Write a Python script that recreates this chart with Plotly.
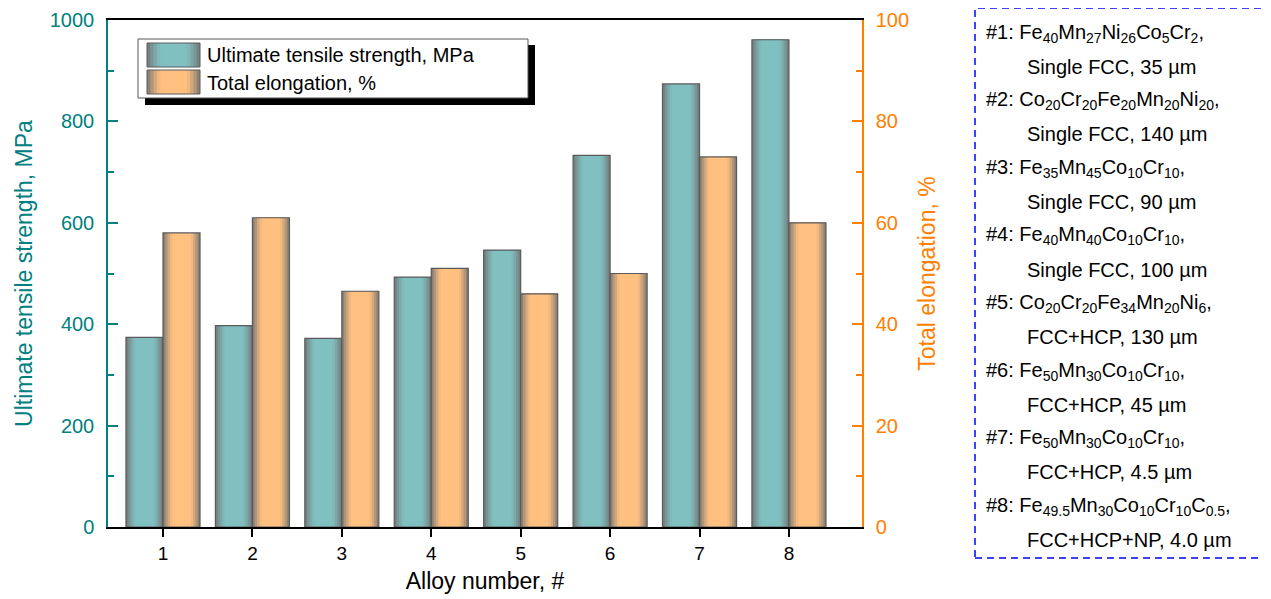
import plotly.graph_objects as go

alloys = [1, 2, 3, 4, 5, 6, 7, 8]
uts_mpa = [374, 397, 372, 493, 546, 733, 874, 961]
elong_pct = [58, 61, 46.5, 51, 46, 50, 73, 60]

legend_names = ["Ultimate tensile strength, MPa", "Total elongation, %"]
info_lines = [
    ("#1: Fe<sub>40</sub>Mn<sub>27</sub>Ni<sub>26</sub>Co<sub>5</sub>Cr<sub>2</sub>,", 0),
    ("Single FCC, 35 µm", 1),
    ("#2: Co<sub>20</sub>Cr<sub>20</sub>Fe<sub>20</sub>Mn<sub>20</sub>Ni<sub>20</sub>,", 0),
    ("Single FCC, 140 µm", 1),
    ("#3: Fe<sub>35</sub>Mn<sub>45</sub>Co<sub>10</sub>Cr<sub>10</sub>,", 0),
    ("Single FCC, 90 µm", 1),
    ("#4: Fe<sub>40</sub>Mn<sub>40</sub>Co<sub>10</sub>Cr<sub>10</sub>,", 0),
    ("Single FCC, 100 µm", 1),
    ("#5: Co<sub>20</sub>Cr<sub>20</sub>Fe<sub>34</sub>Mn<sub>20</sub>Ni<sub>6</sub>,", 0),
    ("FCC+HCP, 130 µm", 1),
    ("#6: Fe<sub>50</sub>Mn<sub>30</sub>Co<sub>10</sub>Cr<sub>10</sub>,", 0),
    ("FCC+HCP, 45 µm", 1),
    ("#7: Fe<sub>50</sub>Mn<sub>30</sub>Co<sub>10</sub>Cr<sub>10</sub>,", 0),
    ("FCC+HCP, 4.5 µm", 1),
    ("#8: Fe<sub>49.5</sub>Mn<sub>30</sub>Co<sub>10</sub>Cr<sub>10</sub>C<sub>0.5</sub>,", 0),
    ("FCC+HCP+NP, 4.0 µm", 1),
]

OFF = 8  # page body margin
W, H = 1271 - OFF, 599 - OFF
L, R, T, B = 108, 862, 20, 527
FONT = "Arial, Liberation Sans, sans-serif"
TEAL_AX = "#008080"
ORANGE_AX = "#FF8000"
TEAL = (0x80, 0xC0, 0xC0)
ORANGE = (0xFF, 0xC0, 0x80)
EDGE = (0x72, 0x72, 0x72)


def px(x):
    return (x - L) / (R - L)


def py(y):
    return (B - y) / (B - T)


def mix(c1, c2, f):
    return "rgb(%d,%d,%d)" % tuple(round(a * (1 - f) + b * f) for a, b in zip(c1, c2))


def shade(t):
    return min(1.0, t * 2.0) ** 0.8


BW = 0.414
NHALF = 8
fig = go.Figure()


def add_grad_bars(y, base, offset, yaxis):
    step = BW / 2 / NHALF
    for k in range(NHALF):
        t = (k + 0.5) / NHALF
        fig.add_trace(go.Bar(
            x=alloys, y=y, width=BW - 2 * k * step, offset=offset + k * step,
            marker=dict(color=mix(EDGE, base, shade(t)), line=dict(width=0)),
            yaxis=yaxis, showlegend=False, hoverinfo="skip"))
    fig.add_trace(go.Bar(
        x=alloys, y=y, width=BW, offset=offset,
        marker=dict(color="rgba(0,0,0,0)", line=dict(width=1.2, color="#5a5a5a")),
        yaxis=yaxis, showlegend=False, hoverinfo="skip"))


add_grad_bars(uts_mpa, TEAL, -BW, "y")
add_grad_bars(elong_pct, ORANGE, 0.0, "y2")

fig.update_layout(
    width=W, height=H, barmode="overlay",
    margin=dict(l=L - OFF, r=1271 - R, t=T - OFF, b=599 - B),
    paper_bgcolor="white", plot_bgcolor="white",
    font=dict(family=FONT, size=20, color="black"),
    showlegend=False,
    xaxis=dict(
        range=[0.385, 8.817], tickvals=alloys, ticktext=[str(a) for a in alloys],
        showline=True, linecolor="black", linewidth=1.5, mirror=True,
        ticks="outside", ticklen=8, tickwidth=1.5, tickcolor="black",
        showgrid=False, zeroline=False, automargin=False,
        tickfont=dict(size=19, color="black"),
        title=dict(text="Alloy number, #", font=dict(size=23, color="black"), standoff=10),
    ),
    yaxis=dict(
        range=[0, 1000], tickvals=[0, 200, 400, 600, 800, 1000],
        showline=True, linecolor=TEAL_AX, linewidth=1.5,
        ticks="inside", ticklen=10, tickwidth=1.5, tickcolor=TEAL_AX,
        minor=dict(tickvals=[100, 300, 500, 700, 900], ticks="inside", ticklen=6,
                   tickwidth=1.5, tickcolor=TEAL_AX),
        showgrid=False, zeroline=False, automargin=False,
        ticklabelstandoff=8,
        tickfont=dict(size=20, color=TEAL_AX),
        title=dict(text="Ultimate tensile strength, MPa", font=dict(size=23, color=TEAL_AX), standoff=11),
    ),
    yaxis2=dict(
        range=[0, 100], tickvals=[0, 20, 40, 60, 80, 100], overlaying="y", side="right",
        showline=True, linecolor=ORANGE_AX, linewidth=1.5,
        ticks="inside", ticklen=10, tickwidth=1.5, tickcolor=ORANGE_AX,
        minor=dict(tickvals=[10, 30, 50, 70, 90], ticks="inside", ticklen=6,
                   tickwidth=1.5, tickcolor=ORANGE_AX),
        showgrid=False, zeroline=False, automargin=False,
        ticklabelstandoff=8,
        tickfont=dict(size=20, color=ORANGE_AX),
        title=dict(text="Total elongation, %", font=dict(size=23, color=ORANGE_AX), standoff=11),
    ),
)

shapes = []
shapes.append(dict(type="rect", xref="paper", yref="paper",
                   x0=px(145), x1=px(535), y0=py(105), y1=py(45),
                   fillcolor="black", line=dict(width=0), layer="above"))
shapes.append(dict(type="rect", xref="paper", yref="paper",
                   x0=px(138), x1=px(528), y0=py(98), y1=py(39),
                   fillcolor="white", line=dict(width=1, color="#555"), layer="above"))
for (y0, y1, base) in [(43, 67, TEAL), (70, 94, ORANGE)]:
    x0s, x1s = 147, 200
    n = 8
    step = (x1s - x0s) / 2 / n
    for k in range(n):
        t = (k + 0.5) / n
        shapes.append(dict(type="rect", xref="paper", yref="paper",
                           x0=px(x0s + k * step), x1=px(x1s - k * step),
                           y0=py(y1), y1=py(y0), fillcolor=mix(EDGE, base, shade(t)),
                           line=dict(width=0), layer="above"))
    shapes.append(dict(type="rect", xref="paper", yref="paper",
                       x0=px(x0s), x1=px(x1s), y0=py(y1), y1=py(y0),
                       line=dict(width=1, color="#5a5a5a"), layer="above"))
shapes.append(dict(type="rect", xref="paper", yref="paper",
                   x0=px(975), x1=px(1269), y0=py(558), y1=py(8),
                   line=dict(width=1.5, color="#0000FF", dash="7px,5px"), layer="above"))
fig.update_layout(shapes=shapes)

ann = []
for name, yy in zip(legend_names, [55, 83]):
    ann.append(dict(text=name, xref="paper", yref="paper", x=px(205), y=py(yy),
                    xanchor="left", yanchor="middle", showarrow=False,
                    font=dict(size=20, color="black")))
for i, (txt, indent) in enumerate(info_lines):
    yy = 33 + i * 33.8
    ann.append(dict(text=txt, xref="paper", yref="paper",
                    x=px(984 if indent == 0 else 1025), y=py(yy),
                    xanchor="left", yanchor="middle", showarrow=False,
                    font=dict(size=20, color="black")))
fig.update_layout(annotations=ann)

fig.write_html("out.html")
